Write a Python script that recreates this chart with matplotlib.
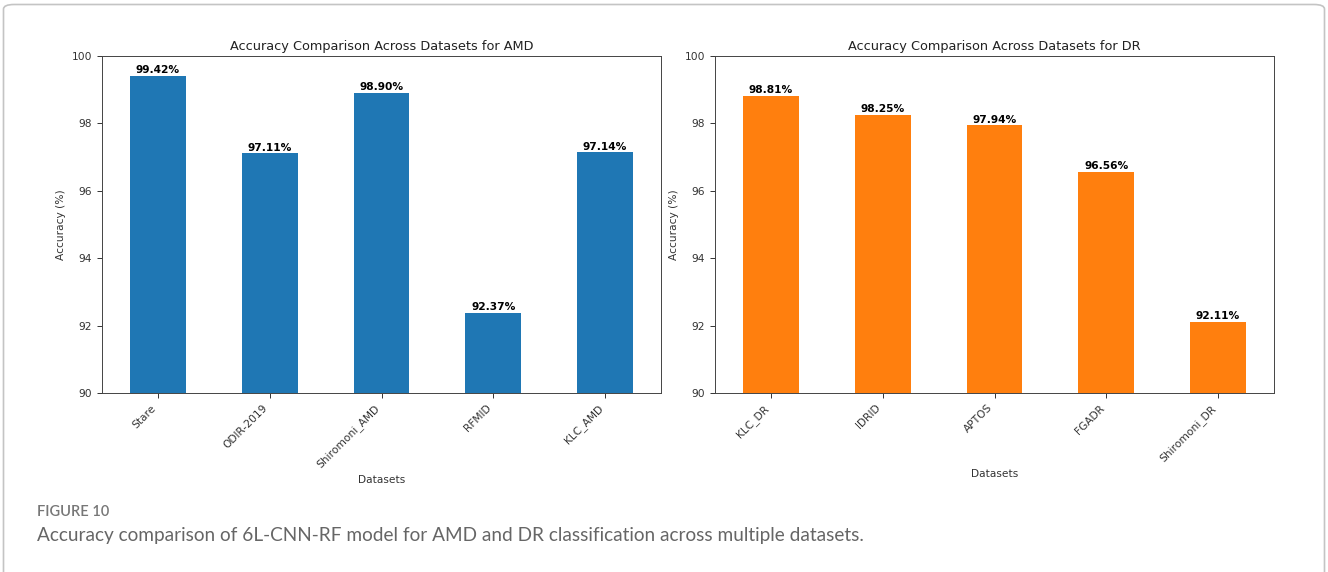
import matplotlib
matplotlib.use("Agg")
import matplotlib.pyplot as plt
from matplotlib.patches import FancyBboxPatch

amd_datasets = ["Stare", "ODIR-2019", "Shiromoni_AMD", "RFMID", "KLC_AMD"]
amd_accuracy = [99.42, 97.11, 98.90, 92.37, 97.14]

dr_datasets = ["KLC_DR", "IDRID", "APTOS", "FGADR", "Shiromoni_DR"]
dr_accuracy = [98.81, 98.25, 97.94, 96.56, 92.11]

W, H = 1328, 572
fig = plt.figure(figsize=(W / 100, H / 100), dpi=100)

# outer frame of the figure panel
frame = FancyBboxPatch((3.5 / W, -0.05), (W - 7) / W, 1 - 4.5 / H + 0.05,
                       boxstyle="round,pad=0,rounding_size=0.008",
                       transform=fig.transFigure, facecolor="white",
                       edgecolor="#c4c4c4", linewidth=1.2, zorder=-10)
fig.patches.append(frame)

bottom = 1 - 393 / H
height = 337 / H
ax1 = fig.add_axes([102 / W, bottom, 559 / W, height])
ax2 = fig.add_axes([715 / W, bottom, 559 / W, height])

FS = 7.7


def draw_panel(ax, names, values, color, title):
    x = range(len(names))
    ax.bar(x, values, width=0.5, color=color)
    ax.set_xlim(-0.5, len(names) - 0.5)
    ax.set_ylim(90, 100)
    ax.set_xticks(list(x))
    ax.set_xticklabels(names, rotation=45, ha="right", fontsize=FS)
    ax.tick_params(axis="y", labelsize=FS, length=3.5, width=0.7, colors="#333333")
    ax.tick_params(axis="x", length=3.5, width=0.7, colors="#333333")
    for s in ax.spines.values():
        s.set_linewidth(0.7)
        s.set_color("#444444")
    ax.set_title(title, fontsize=9.25, pad=4.5, color="#222222")
    ax.set_xlabel("Datasets", fontsize=FS, color="#333333")
    ax.set_ylabel("Accuracy (%)", fontsize=FS, color="#333333")
    for i, v in enumerate(values):
        ax.text(i, v + 0.02, f"{v:.2f}%", ha="center", va="bottom",
                fontsize=FS, fontweight="bold")


draw_panel(ax1, amd_datasets, amd_accuracy, "#1f77b4",
           "Accuracy Comparison Across Datasets for AMD")
draw_panel(ax2, dr_datasets, dr_accuracy, "#ff7f0e",
           "Accuracy Comparison Across Datasets for DR")

fig.text(37 / W, 1 - 512 / H, "FIGURE 10", fontsize=10.5, color="#777777",
         family="Lato", fontweight="semibold", va="center")
fig.text(37 / W, 1 - 535 / H,
         "Accuracy comparison of 6L-CNN-RF model for AMD and DR classification across multiple datasets.",
         fontsize=13.7, color="#666666", family="Lato", va="center")

fig.savefig("out.png", dpi=100)
